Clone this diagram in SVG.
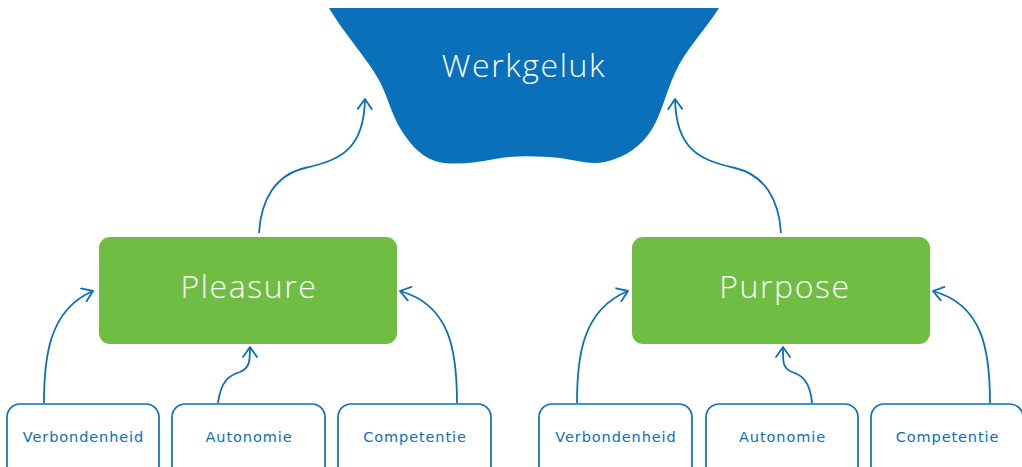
<svg xmlns="http://www.w3.org/2000/svg" width="1022" height="467" viewBox="0 0 1022 467">
<style>
.big{font-family:"Open Sans","DejaVu Sans",sans-serif;font-weight:300;fill:#ffffff;text-anchor:middle;letter-spacing:1.6px}
.green{fill:#70BD44}
.small{fill:#ffffff;stroke:#0A70BA;stroke-width:1.7}
.lbl{font-family:"DejaVu Sans","Liberation Sans",sans-serif;font-size:14.5px;fill:#0A70BA;text-anchor:middle;letter-spacing:0.9px}
.conn{fill:none;stroke:#0A70BA;stroke-width:1.8;marker-end:url(#arr)}
</style>
<defs>
<marker id="arr" viewBox="0 0 12 16" refX="11" refY="8" markerWidth="12" markerHeight="16" markerUnits="userSpaceOnUse" orient="auto">
<path d="M1,1 L11,8 L1,15" fill="none" stroke="#0A70BA" stroke-width="1.8" stroke-linecap="round" stroke-linejoin="round"/>
</marker>
</defs>
<rect width="1022" height="467" fill="#ffffff"/>
<g id="werkgeluk">
<path d="M329,8 L719,8 C705,30 685,50 675,73 C665,95 660,120 648,135 C635,152 620,158 605,162 C590,165 575,160 560,158 C540,156 515,155 495,159 C475,163 450,166 435,161 C418,155 408,141 400,128 C392,115 388,98 380,82 C370,62 345,35 329,8 Z" fill="#0A70BA"/>
<text class="big" x="524" y="77" font-size="32">Werkgeluk</text>
</g>
<g id="pleasure">
<rect class="green" x="99" y="237" width="298" height="107" rx="11"/>
<text class="big" x="249" y="298" font-size="32">Pleasure</text>
</g>
<g id="purpose">
<rect class="green" x="632" y="237" width="298" height="107" rx="11"/>
<text class="big" x="785" y="298" font-size="32">Purpose</text>
</g>
<g id="verbondenheid1"><rect class="small" x="7" y="404" width="152" height="80" rx="13"/><text class="lbl" x="83.5" y="442">Verbondenheid</text></g>
<g id="autonomie1"><rect class="small" x="172" y="404" width="153" height="80" rx="13"/><text class="lbl" x="249" y="442">Autonomie</text></g>
<g id="competentie1"><rect class="small" x="338" y="404" width="153" height="80" rx="13"/><text class="lbl" x="415" y="442">Competentie</text></g>
<g id="verbondenheid2"><rect class="small" x="539" y="404" width="153" height="80" rx="13"/><text class="lbl" x="616" y="442">Verbondenheid</text></g>
<g id="autonomie2"><rect class="small" x="706" y="404" width="152" height="80" rx="13"/><text class="lbl" x="782.5" y="442">Autonomie</text></g>
<g id="competentie2"><rect class="small" x="871" y="404" width="152" height="80" rx="13"/><text class="lbl" x="947.5" y="442">Competentie</text></g>
<g id="connectors">
<path class="conn" d="M259,233 C261,200 275,175 305,168 C340,160 364,150 365,99"/>
<path class="conn" d="M781,233 C779,200 765,175 735,168 C700,160 676,150 675,99"/>
<path class="conn" d="M44,403 C44,360 48,310 93,291"/>
<path class="conn" d="M218,403 C221,380 230,375 240,372 C250,368 250,360 250,347"/>
<path class="conn" d="M457,403 C457,350 450,305 400,291"/>
<path class="conn" d="M577,403 C577,360 581,310 628,291"/>
<path class="conn" d="M812,403 C810,380 801,375 792,372 C782,368 783,360 783,347"/>
<path class="conn" d="M990,403 C990,350 983,305 933,291"/>
</g>
</svg>
